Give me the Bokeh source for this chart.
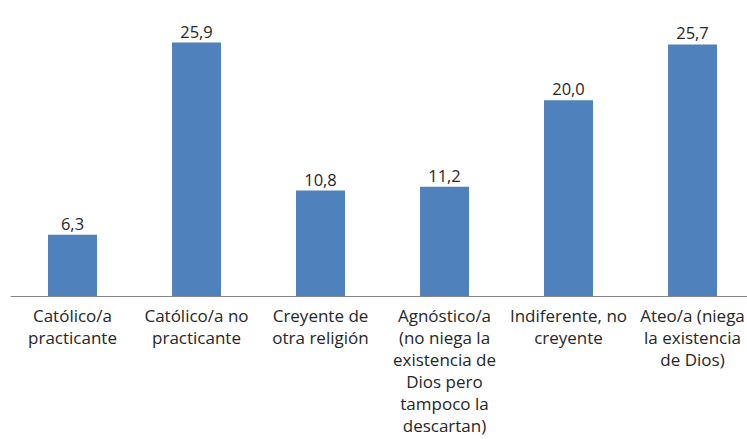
from bokeh.plotting import figure
from bokeh.models import Range1d, Span, ColumnDataSource
from bokeh.core.properties import value
from bokeh.embed import file_html
from bokeh.resources import INLINE

categories = [
    "Católico/a\npracticante",
    "Católico/a no\npracticante",
    "Creyente de\notra religión",
    "Agnóstico/a\n(no niega la\nexistencia de\nDios pero\ntampoco la\ndescartan)",
    "Indiferente, no\ncreyente",
    "Ateo/a (niega\nla existencia\nde Dios)",
]
values = [6.3, 25.9, 10.8, 11.2, 20.0, 25.7]
value_labels = ["6,3", "25,9", "10,8", "11,2", "20,0", "25,7"]

W, H = 747, 439
left = 10
axis_px = 296
ppu_y = 254 / 25.9
ppu_x = 124.0

xs = list(range(len(values)))
src = ColumnDataSource(dict(x=xs, top=values, vl=value_labels, cat=categories,
                            zero=[0] * len(values)))

p = figure(width=W, height=H, output_backend="svg", toolbar_location=None,
           min_border_left=left, min_border_right=0, min_border_top=0, min_border_bottom=0)
p.x_range = Range1d(-0.5, -0.5 + (W - left) / ppu_x)
p.y_range = Range1d(-(H - axis_px) / ppu_y, axis_px / ppu_y)
p.axis.visible = False
p.grid.visible = False
p.outline_line_color = None
p.background_fill_color = "white"
p.border_fill_color = "white"

p.vbar(x="x", top="top", bottom=0, width=0.395, source=src,
       fill_color="#4F81BD", line_color=None)

p.add_layout(Span(location=0, dimension="width", line_color="#868686", line_width=1.2))

p.text(x="x", y="top", text="vl", source=src, text_align="center",
       text_baseline="alphabetic", y_offset=-11, text_font=value("Open Sans"),
       text_font_size="16.5px", text_color="#262626")

p.text(x="x", y="zero", text="cat", source=src, text_align="center",
       text_baseline="top", y_offset=7, text_font=value("Open Sans"),
       text_font_size="17px", text_color="#262626", text_line_height=0.96)

open("out.html", "w").write(file_html(p, INLINE))
